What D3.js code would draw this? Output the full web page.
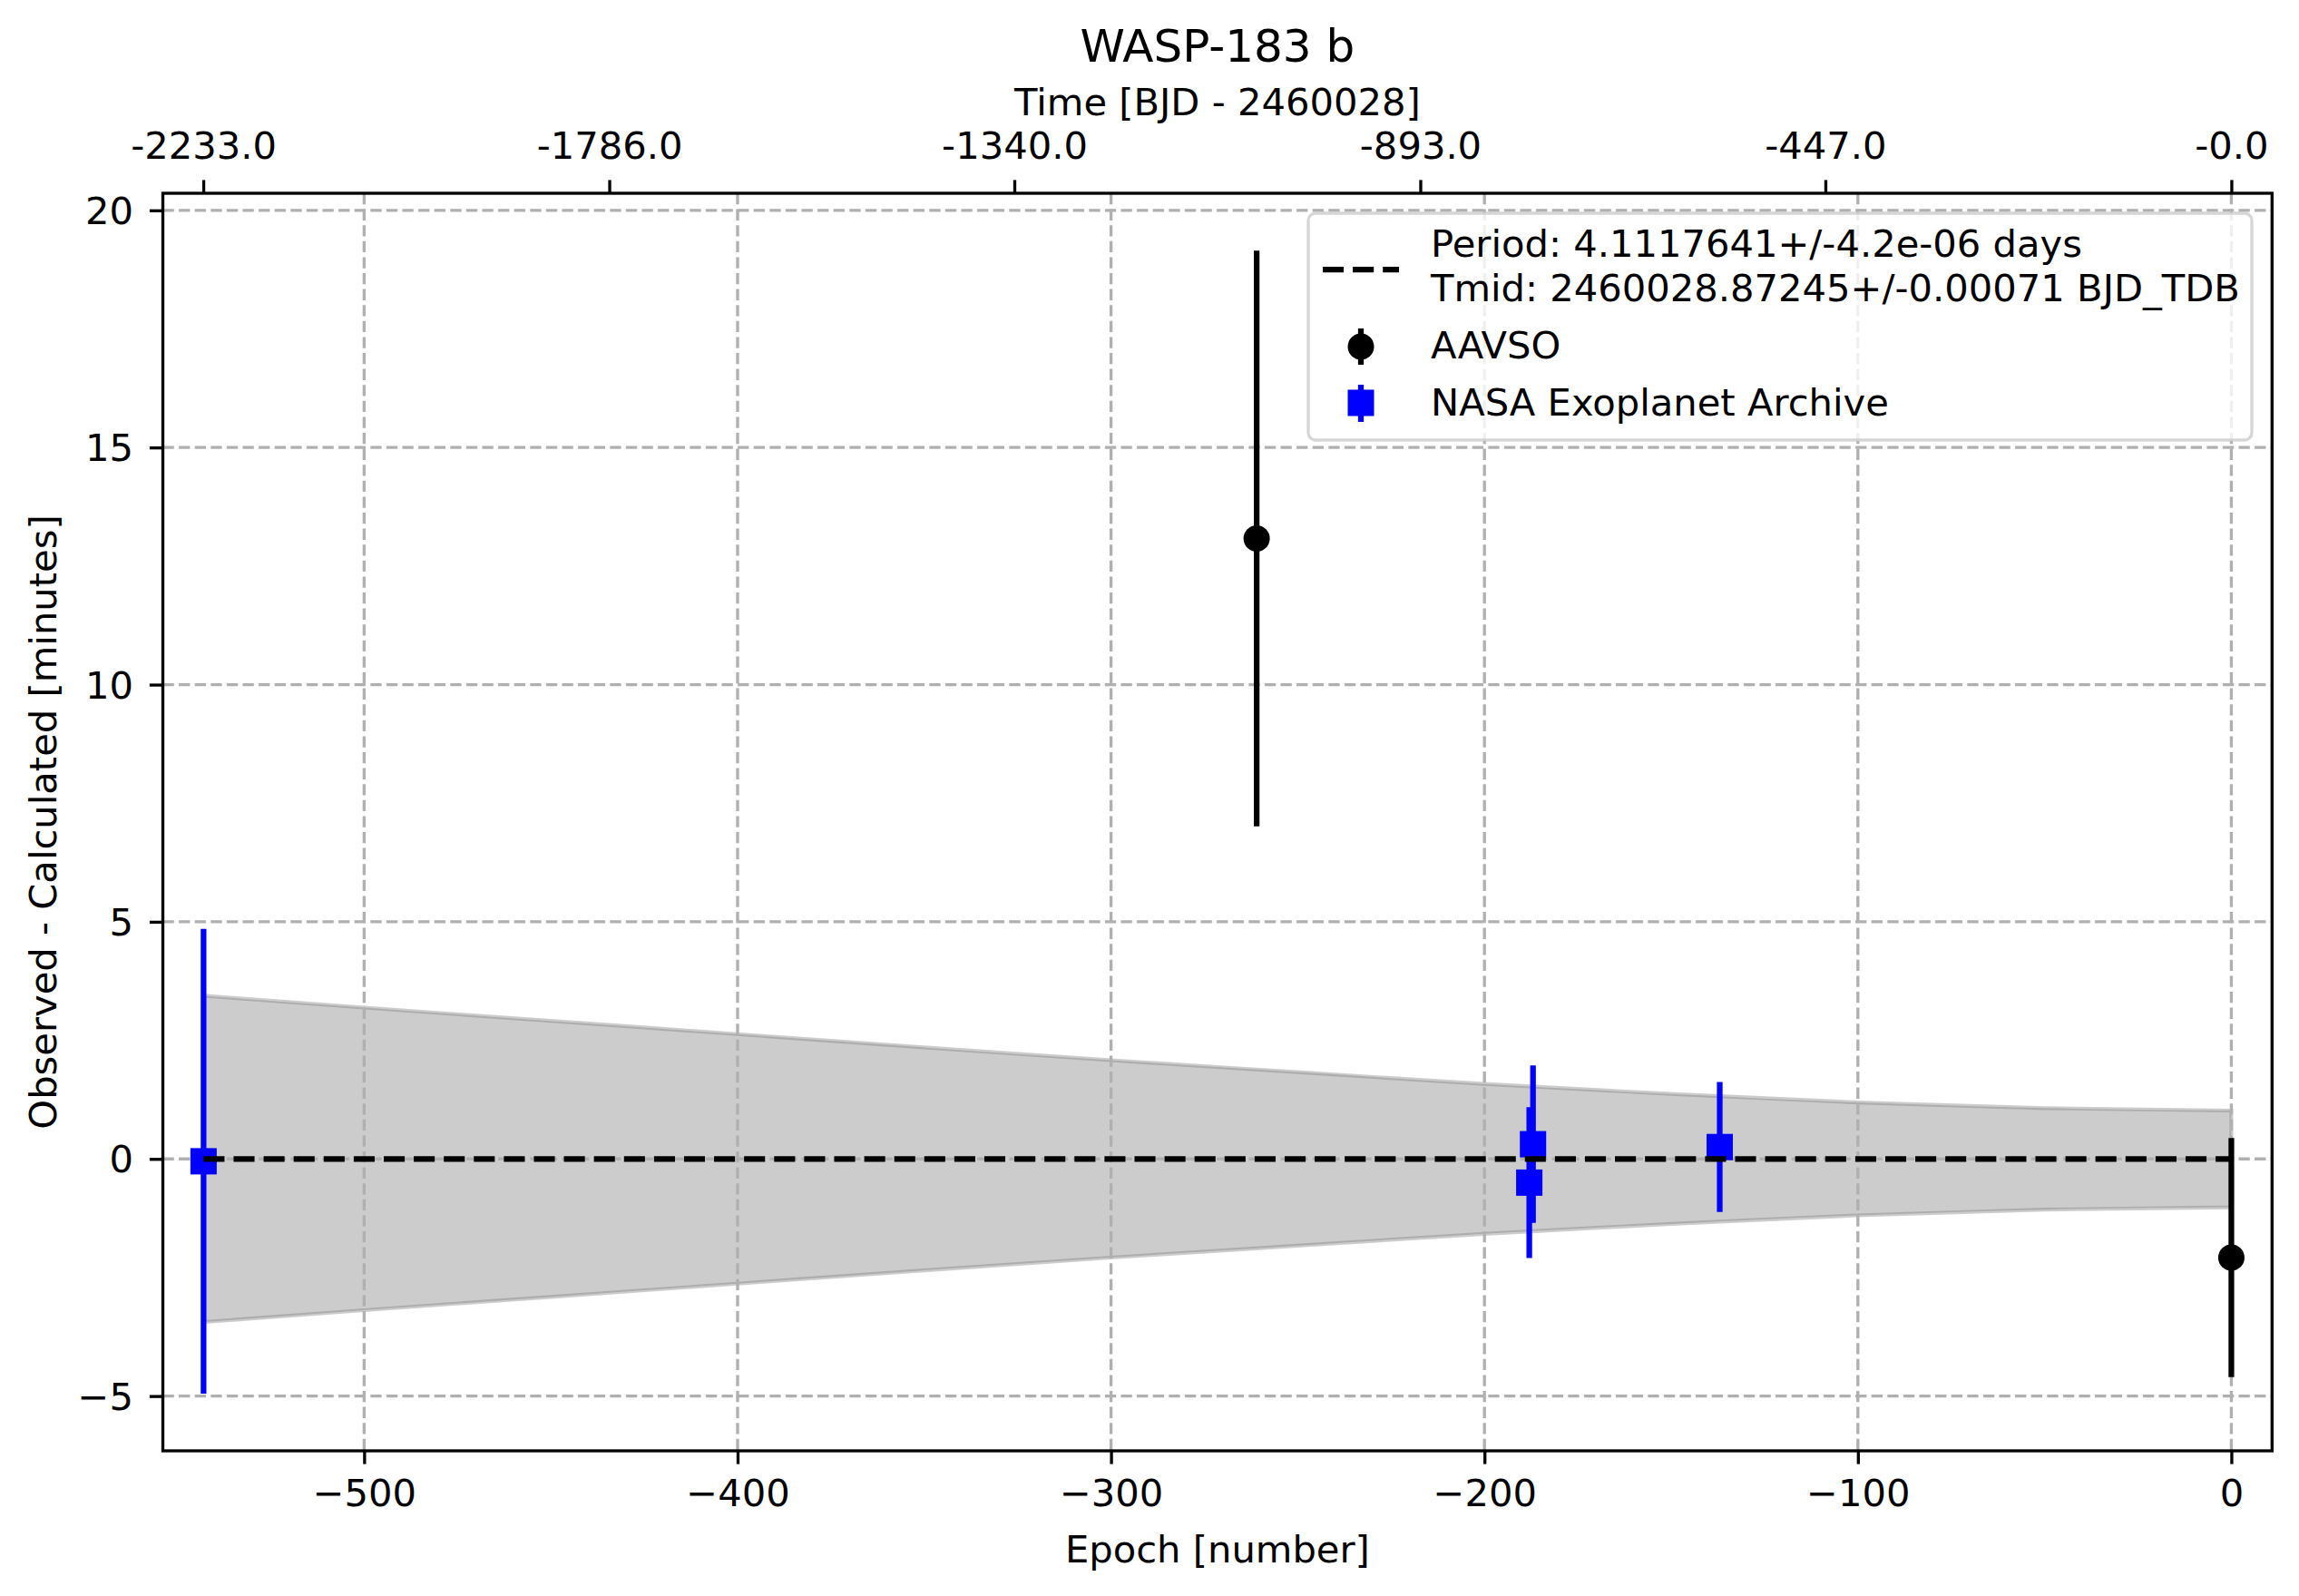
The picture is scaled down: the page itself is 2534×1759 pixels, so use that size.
<!DOCTYPE html>
<html>
<head>
<meta charset="utf-8">
<title>WASP-183 b O-C</title>
<script src="https://cdn.jsdelivr.net/npm/d3@7"></script>
<style>
    body { margin: 0; background: #fff; }
    text { font-family: "DejaVu Sans", sans-serif; fill: #000; }
</style>
</head>
<body>
<div id="chart"></div>
<script>
// Data
const aavsoEpochs = [-261, 0];
const aavsoOC = [13.08, -2.08];
const aavsoErr = [6.07, 2.52];

const nasaEpochs = [-543, -188, -187, -137];
const nasaOC = [-0.05, -0.50, 0.31, 0.25];
const nasaErr = [4.90, 1.59, 1.66, 1.37];

// 1-sigma envelope of the linear ephemeris (minutes)
const bandEpochs = [-543, -500, -450, -400, -350, -300, -250, -200, -150, -100, -50, 0];
const bandHalfWidth = [3.44, 3.19, 2.91, 2.63, 2.35, 2.08, 1.83, 1.58, 1.37, 1.19, 1.07, 1.02];

const epochTicks = [-500, -400, -300, -200, -100, 0];
const ocTicks = [-5, 0, 5, 10, 15, 20];
const timeTicks = [-2233.0, -1786.0, -1340.0, -893.0, -447.0, 0];
const timeTickLabels = ["-2233.0", "-1786.0", "-1340.0", "-893.0", "-447.0", "-0.0"];

const period = 4.1117641;
const legendLabels = [
    ["Period: 4.1117641+/-4.2e-06 days", "Tmid: 2460028.87245+/-0.00071 BJD_TDB"],
    ["AAVSO"],
    ["NASA Exoplanet Archive"]
];

function drawChart() {
    const width = 2534;
    const height = 1759;
    const box = {left: 179.5, right: 2504.3, top: 213, bottom: 1599};
    const fs = 41.67;
    const lw = 6.25;

    const svg = d3.select("#chart")
        .append("svg")
        .attr("width", width)
        .attr("height", height);

    svg.append("rect").attr("width", width).attr("height", height).attr("fill", "#fff");

    const x = d3.scaleLinear().domain([-553.9, 10.9]).range([box.left, box.right]);
    const y = d3.scaleLinear().domain([-6.155, 20.36]).range([box.bottom, box.top]);
    const xTime = d3.scaleLinear()
        .domain(x.domain().map(d => d * period))
        .range(x.range());

    const plot = svg.append("g");

    // Uncertainty band
    const band = bandEpochs.map((e, i) => ({e: e, h: bandHalfWidth[i]}));
    plot.append("path")
        .datum(band)
        .attr("d", d3.area()
            .x(d => x(d.e))
            .y0(d => y(-d.h))
            .y1(d => y(d.h))
            .curve(d3.curveMonotoneX))
        .attr("fill", "gray")
        .attr("fill-opacity", 0.4)
        .attr("stroke", "gray")
        .attr("stroke-opacity", 0.4)
        .attr("stroke-width", 4.17);

    // Grid
    const grid = plot.append("g")
        .attr("stroke", "#b0b0b0")
        .attr("stroke-width", 3.33)
        .attr("stroke-dasharray", "12.3 5.3");
    grid.selectAll(".vgrid")
        .data(epochTicks)
        .enter().append("line")
        .attr("x1", d => x(d)).attr("x2", d => x(d))
        .attr("y1", box.top).attr("y2", box.bottom);
    grid.selectAll(".hgrid")
        .data(ocTicks)
        .enter().append("line")
        .attr("x1", box.left).attr("x2", box.right)
        .attr("y1", d => y(d)).attr("y2", d => y(d));

    // Error bars
    const aavso = aavsoEpochs.map((e, i) => ({e: e, v: aavsoOC[i], err: aavsoErr[i]}));
    const nasa = nasaEpochs.map((e, i) => ({e: e, v: nasaOC[i], err: nasaErr[i]}));

    function errorBars(data, color) {
        plot.append("g").selectAll("line")
            .data(data)
            .enter().append("line")
            .attr("x1", d => x(d.e)).attr("x2", d => x(d.e))
            .attr("y1", d => y(d.v - d.err)).attr("y2", d => y(d.v + d.err))
            .attr("stroke", color)
            .attr("stroke-width", lw);
    }

    errorBars(aavso, "#000");
    plot.append("g").selectAll("circle")
        .data(aavso)
        .enter().append("circle")
        .attr("cx", d => x(d.e))
        .attr("cy", d => y(d.v))
        .attr("r", 14.5)
        .attr("fill", "#000");

    errorBars(nasa, "#0000ff");
    plot.append("g").selectAll("rect")
        .data(nasa)
        .enter().append("rect")
        .attr("x", d => x(d.e) - 14.5)
        .attr("y", d => y(d.v) - 14.5)
        .attr("width", 29)
        .attr("height", 29)
        .attr("fill", "#0000ff");

    // Zero line of the ephemeris
    plot.append("line")
        .attr("x1", x(d3.min(bandEpochs))).attr("x2", x(d3.max(bandEpochs)))
        .attr("y1", y(0)).attr("y2", y(0))
        .attr("stroke", "#000")
        .attr("stroke-width", lw)
        .attr("stroke-dasharray", "23.1 10");

    // Axes
    const styleAxis = g => {
        g.select(".domain").remove();
        g.selectAll(".tick line").attr("stroke", "#000").attr("stroke-width", 3.33);
        g.selectAll(".tick text")
            .attr("font-size", fs)
            .attr("font-family", "DejaVu Sans");
    };

    svg.append("g")
        .attr("transform", `translate(0,${box.bottom})`)
        .call(d3.axisBottom(x).tickValues(epochTicks).tickSize(14.6).tickPadding(17)
            .tickFormat(d => d < 0 ? "\u2212" + Math.abs(d) : d))
        .call(styleAxis);

    svg.append("g")
        .attr("transform", `translate(${box.left},0)`)
        .call(d3.axisLeft(y).tickValues(ocTicks).tickSize(14.6).tickPadding(18)
            .tickFormat(d => d < 0 ? "\u2212" + Math.abs(d) : d))
        .call(styleAxis)
        .selectAll(".tick text").attr("dy", "0.35em");

    svg.append("g")
        .attr("transform", `translate(0,${box.top})`)
        .call(d3.axisTop(xTime).tickValues(timeTicks).tickSize(14.6).tickPadding(23)
            .tickFormat((d, i) => timeTickLabels[i]))
        .call(styleAxis);

    svg.append("rect")
        .attr("x", box.left).attr("y", box.top)
        .attr("width", box.right - box.left)
        .attr("height", box.bottom - box.top)
        .attr("fill", "none")
        .attr("stroke", "#000")
        .attr("stroke-width", 3.33);

    // Titles and labels
    const cx = (box.left + box.right) / 2;
    svg.append("text").attr("x", cx).attr("y", 68)
        .attr("text-anchor", "middle").attr("font-size", 50)
        .text("WASP-183 b");
    svg.append("text").attr("x", cx).attr("y", 127)
        .attr("text-anchor", "middle").attr("font-size", fs)
        .text("Time [BJD - 2460028]");
    svg.append("text").attr("x", cx).attr("y", 1721.7)
        .attr("text-anchor", "middle").attr("font-size", fs)
        .text("Epoch [number]");
    svg.append("text")
        .attr("transform", `translate(62,${(box.top + box.bottom) / 2}) rotate(-90)`)
        .attr("text-anchor", "middle").attr("font-size", fs)
        .text("Observed - Calculated [minutes]");

    // Legend
    const legend = svg.append("g");
    legend.append("rect")
        .attr("x", 1442).attr("y", 235)
        .attr("width", 1040).attr("height", 250)
        .attr("rx", 8).attr("ry", 8)
        .attr("fill", "#fff").attr("fill-opacity", 0.8)
        .attr("stroke", "#cccccc").attr("stroke-opacity", 0.8)
        .attr("stroke-width", 3.33);

    const handleX = 1500;
    legend.append("line")
        .attr("x1", 1458).attr("x2", 1542)
        .attr("y1", 297).attr("y2", 297)
        .attr("stroke", "#000").attr("stroke-width", lw)
        .attr("stroke-dasharray", "23.1 10");

    legend.append("line")
        .attr("x1", handleX).attr("x2", handleX).attr("y1", 362).attr("y2", 402)
        .attr("stroke", "#000").attr("stroke-width", lw);
    legend.append("circle")
        .attr("cx", handleX).attr("cy", 382).attr("r", 14.5).attr("fill", "#000");

    legend.append("line")
        .attr("x1", handleX).attr("x2", handleX).attr("y1", 424).attr("y2", 465)
        .attr("stroke", "#0000ff").attr("stroke-width", lw);
    legend.append("rect")
        .attr("x", handleX - 14.5).attr("y", 444 - 14.5)
        .attr("width", 29).attr("height", 29).attr("fill", "#0000ff");

    const baselines = [[283, 332], [395], [458]];
    legendLabels.forEach((lines, i) => {
        lines.forEach((t, j) => {
            legend.append("text")
                .attr("x", 1577).attr("y", baselines[i][j])
                .attr("font-size", fs)
                .text(t);
        });
    });
}

drawChart();
</script>
</body>
</html>
